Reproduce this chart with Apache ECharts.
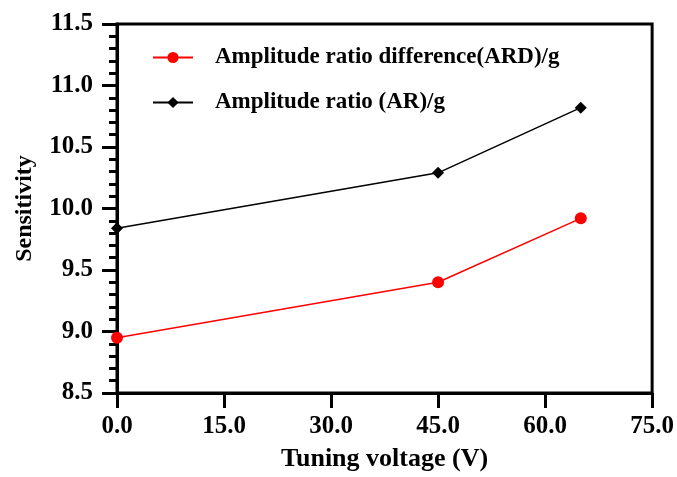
<!DOCTYPE html>
<html><head><meta charset="utf-8">
<script src="https://cdn.jsdelivr.net/npm/echarts@6/dist/echarts.min.js"></script>
<style>html,body{margin:0;padding:0;background:#fff}#c{width:677px;height:477px}</style>
</head><body><div id="c"></div>
<script>
var voltage = [0, 45, 65];
var ardValues = [8.95, 9.40, 9.92];
var arValues = [9.84, 10.29, 10.82];
var seriesNames = ['Amplitude ratio difference(ARD)/g', 'Amplitude ratio (AR)/g'];
var xTitle = 'Tuning voltage (V)';
var yTitle = 'Sensitivity';

var FONT = '"Liberation Serif","Times New Roman",serif';
function pairs(xs, ys){ return xs.map(function(x,i){ return [x, ys[i]]; }); }

var chart = echarts.init(document.getElementById('c'), null, {renderer:'canvas'});
chart.setOption({
  animation:false,
  backgroundColor:'#fff',
  grid:{left:117, right:23, top:24, bottom:81, show:true, borderColor:'#000', borderWidth:3, backgroundColor:'transparent'},
  legend:{
    orient:'vertical', left:147, top:41, itemWidth:40, itemHeight:14, itemGap:22,
    textStyle:{fontFamily:FONT, fontWeight:'bold', fontSize:23, color:'#000', lineHeight:20, padding:[0,0,0,17]},
    data:seriesNames
  },
  xAxis:{
    type:'value', min:0, max:75, interval:15,
    name:xTitle, nameLocation:'middle', nameGap:53,
    nameTextStyle:{fontFamily:FONT, fontWeight:'bold', fontSize:26, color:'#000'},
    axisLine:{show:true, lineStyle:{color:'#000', width:3}},
    axisTick:{show:true, length:15, lineStyle:{color:'#000', width:3}},
    axisLabel:{margin:21, fontFamily:FONT, fontWeight:'bold', fontSize:25, color:'#000', formatter:function(v){return v.toFixed(1);}},
    splitLine:{show:false}
  },
  yAxis:{
    type:'value', min:8.5, max:11.5, interval:0.5,
    name:yTitle, nameLocation:'middle', nameGap:80,
    nameTextStyle:{fontFamily:FONT, fontWeight:'bold', fontSize:24, color:'#000'},
    axisLine:{show:true, lineStyle:{color:'#000', width:3}},
    axisTick:{show:true, length:15, lineStyle:{color:'#000', width:3}},
    minorTick:{show:true, splitNumber:5, length:8, lineStyle:{color:'#000', width:3}},
    axisLabel:{margin:24, fontFamily:FONT, fontWeight:'bold', fontSize:25, color:'#000', formatter:function(v){return v.toFixed(1);}},
    splitLine:{show:false}
  },
  series:[
    {name:seriesNames[0], type:'line', data:pairs(voltage, ardValues), symbol:'circle', symbolSize:12,
     itemStyle:{color:'#ff0000'}, lineStyle:{color:'#ff0000', width:1.5}, z:3},
    {name:seriesNames[1], type:'line', data:pairs(voltage, arValues), symbol:'diamond', symbolSize:12,
     itemStyle:{color:'#000'}, lineStyle:{color:'#000', width:1.5}, z:3}
  ]
});
</script></body></html>
